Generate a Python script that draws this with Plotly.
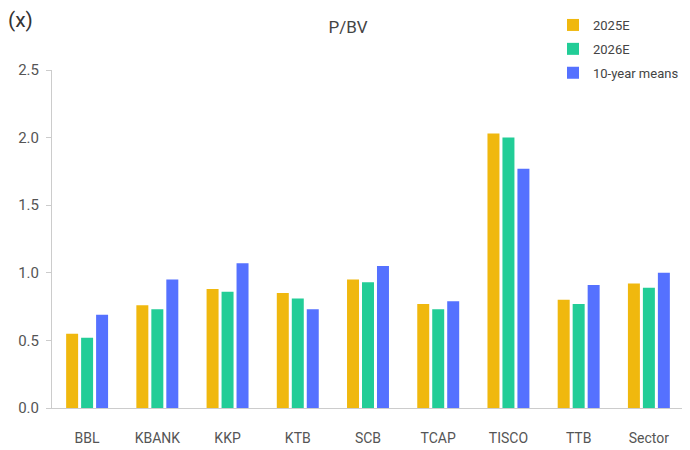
import plotly.graph_objects as go

categories = ["BBL", "KBANK", "KKP", "KTB", "SCB", "TCAP", "TISCO", "TTB", "Sector"]
pbv_2025e = [0.55, 0.76, 0.88, 0.85, 0.95, 0.77, 2.03, 0.80, 0.92]
pbv_2026e = [0.52, 0.73, 0.86, 0.81, 0.93, 0.73, 2.00, 0.77, 0.89]
pbv_10y_mean = [0.69, 0.95, 1.07, 0.73, 1.05, 0.79, 1.77, 0.91, 1.00]
y_ticks = [0.0, 0.5, 1.0, 1.5, 2.0, 2.5]

series = [
    ("2025E", pbv_2025e, "#F0B80E"),
    ("2026E", pbv_2026e, "#22CD97"),
    ("10-year means", pbv_10y_mean, "#5571FF"),
]

FONT = "Roboto, Inter, sans-serif"
W, H = 682, 442  # page body has an 8px default margin
L, R, T, B = 44, 6, 62, 42
PW, PH = W - L - R, H - T - B

fig = go.Figure()
for i, (name, vals, col) in enumerate(series):
    fig.add_trace(go.Bar(
        x=categories, y=vals, name=name, legendgroup=f"g{i}",
        marker=dict(color=col, line=dict(width=0)),
    ))

fig.update_layout(
    width=W, height=H,
    margin=dict(l=L, r=R, t=T, b=B, autoexpand=False),
    paper_bgcolor="white", plot_bgcolor="white",
    barmode="group", bargap=0.36, bargroupgap=0.2,
    font=dict(family=FONT, size=14, color="#555555"),
    title=dict(text="P/BV", xref="container", x=340 / W, xanchor="center",
               yref="container", y=1 - 19 / H, yanchor="middle",
               font=dict(family=FONT, size=17, color="#444444")),
    showlegend=True,
    legend=dict(xref="container", yref="container", x=545 / W, y=1 - 2 / H,
                xanchor="left", yanchor="top", tracegroupgap=4,
                font=dict(family=FONT, size=13, color="#444444"),
                bgcolor="rgba(0,0,0,0)"),
    xaxis=dict(showgrid=False, showline=True, linecolor="#cccccc", linewidth=1,
               ticks="", tickfont=dict(size=14, color="#555555"), ticklabelstandoff=17),
    yaxis=dict(range=[0, 2.5], tickvals=y_ticks, ticktext=[f"{v:.1f}" for v in y_ticks],
               showgrid=False, zeroline=False, showline=True, linecolor="#cccccc", linewidth=1,
               ticks="outside", ticklen=5, tickcolor="#cccccc", ticklabelstandoff=4,
               tickfont=dict(size=15, color="#555555")),
    annotations=[dict(text="(x)", xref="paper", yref="paper", x=(-2 - L) / PW, y=1 + (T - 12) / PH,
                      xanchor="left", yanchor="middle", showarrow=False,
                      font=dict(family=FONT, size=21, color="#333333"))],
)

fig.write_html("out.html")
